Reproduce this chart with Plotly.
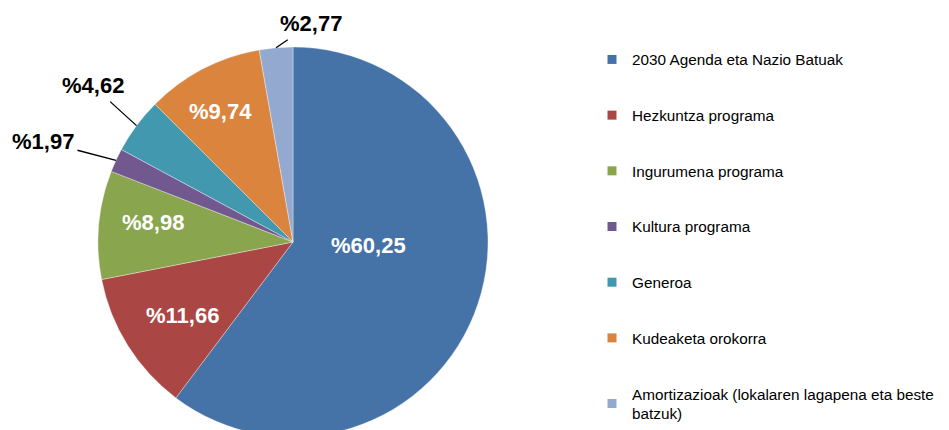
import math
import plotly.graph_objects as go

labels = ["2030 Agenda eta Nazio Batuak", "Hezkuntza programa", "Ingurumena programa",
          "Kultura programa", "Generoa", "Kudeaketa orokorra",
          "Amortizazioak (lokalaren lagapena eta beste<br>batzuk)"]
values = [60.25, 11.66, 8.98, 1.97, 4.62, 9.74, 2.77]
colors = ["#4572A7", "#AA4643", "#89A54E", "#71588F", "#4198AF", "#DB843D", "#93A9CF"]

# label placement (styling): inside labels -> (radius fraction, angle tweak in degrees)
inside_pos = {0: (0.386, -14.6), 1: (0.683, -2.2), 2: (0.724, 2.3), 5: (0.76, -2.0)}
# outside labels -> pixel offset of the text from the rim point (leader line)
outside_offsets = {3: (-73, -19), 4: (-44, -40), 6: (35, -24)}

FONT = "Liberation Sans, Arial"
W, H = 949, 430
MT, MB = 39, 1
PH = H - MT - MB
R = PH / 2
CX_PX = 285
CY_PX = MT + R

fig = go.Figure()
fig.add_trace(go.Pie(
    labels=labels, values=values, sort=False, direction="clockwise", rotation=0,
    marker=dict(colors=colors, line=dict(color="rgba(255,255,255,0.6)", width=0.6)),
    textinfo="none", showlegend=False, hoverinfo="label+value",
    domain=dict(x=[(CX_PX - R) / W, (CX_PX + R) / W], y=[0, 1]),
))
for lab, col in zip(labels, colors):
    fig.add_trace(go.Scatter(x=[None], y=[None], mode="markers", name=lab,
                             legendgroup=lab,
                             marker=dict(symbol="square", size=9, color=col)))


def to_paper(px, py):
    return px / W, (H - MB - py) / PH


total = sum(values)
cum = 0.0
annotations = []
for i, v in enumerate(values):
    mid = (cum + v / 2) / total * 360.0
    cum += v
    txt = ("%" + f"{v:.2f}").replace(".", ",")
    if i in inside_pos:
        frac, dth = inside_pos[i]
        a = math.radians(mid + dth)
        x, y = to_paper(CX_PX + frac * R * math.sin(a), CY_PX - frac * R * math.cos(a))
        annotations.append(dict(
            x=x, y=y + 1.5 / PH, xref="paper", yref="paper", text=txt, showarrow=False,
            xanchor="center", yanchor="middle",
            font=dict(family=FONT, size=22, color="white", weight="bold"),
        ))
    else:
        a = math.radians(mid)
        x, y = to_paper(CX_PX + R * math.sin(a), CY_PX - R * math.cos(a))
        ax, ay = outside_offsets[i]
        annotations.append(dict(
            x=x, y=y, xref="paper", yref="paper", text=txt,
            showarrow=True, arrowhead=0, arrowwidth=1.3, arrowcolor="black",
            ax=ax, ay=ay, standoff=0, borderpad=3,
            font=dict(family=FONT, size=22, color="black", weight="bold"),
        ))

fig.update_layout(
    width=W, height=H, margin=dict(l=0, r=0, t=MT, b=MB, autoexpand=False),
    paper_bgcolor="white", plot_bgcolor="white",
    xaxis=dict(visible=False), yaxis=dict(visible=False),
    annotations=annotations,
    legend=dict(xref="container", yref="container", x=584 / W, xanchor="left",
                y=1 - 35 / H, yanchor="top", maxheight=420,
                font=dict(family=FONT, size=15.3, color="black"),
                tracegroupgap=32.8, itemsizing="trace"),
)
fig.write_html("out.html")
